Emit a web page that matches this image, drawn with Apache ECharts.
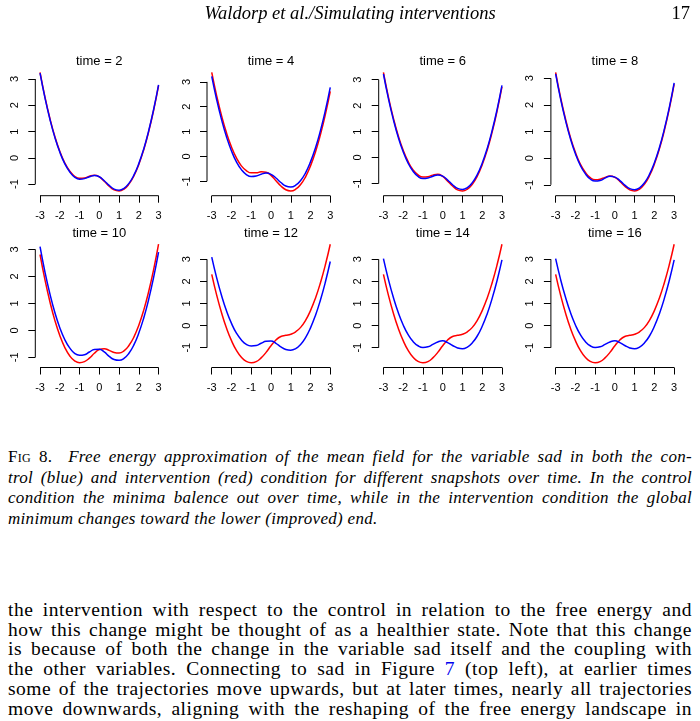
<!DOCTYPE html>
<html>
<head>
<meta charset="utf-8">
<script src="https://cdn.jsdelivr.net/npm/echarts@6/dist/echarts.min.js"></script>
<style>
html,body{margin:0;padding:0;background:#fff;}
body{width:700px;height:721px;position:relative;overflow:hidden;}
#chart{position:absolute;left:0;top:0;width:700px;height:410px;z-index:1;}
.t{position:absolute;white-space:nowrap;color:#000;font-family:'Liberation Serif','Times New Roman',serif;z-index:2;}
.hdr{top:2px;left:0;width:700px;text-align:center;font-style:italic;font-size:18.5px;line-height:22px;}
.pg{top:2px;right:10px;font-size:18.5px;line-height:22px;}
.cap{left:8px;width:684px;font-style:italic;font-size:17px;letter-spacing:0.3px;line-height:20px;text-align:justify;text-align-last:justify;}
.cap.last{text-align-last:left;}
.body{left:8px;width:684px;font-size:19.5px;letter-spacing:0.5px;line-height:20px;text-align:justify;text-align-last:justify;}
.sc{font-style:normal;font-variant:small-caps;}
.lnk{color:#0000ee;}
</style>
</head>
<body>
<div class="t hdr">Waldorp et al./Simulating interventions</div>
<div class="t pg">17</div>
<div id="chart"></div>
<div class="t cap" style="top:447px"><span class="sc">Fig 8.</span>&nbsp;&nbsp;Free energy approximation of the mean field for the variable sad in both the con-</div>
<div class="t cap" style="top:467.5px">trol (blue) and intervention (red) condition for different snapshots over time. In the control</div>
<div class="t cap" style="top:488px">condition the minima balence out over time, while in the intervention condition the global</div>
<div class="t cap last" style="top:508.5px">minimum changes toward the lower (improved) end.</div>
<div class="t body" style="top:600px">the intervention with respect to the control in relation to the free energy and</div>
<div class="t body" style="top:619.7px">how this change might be thought of as a healthier state. Note that this change</div>
<div class="t body" style="top:639.4px">is because of both the change in the variable sad itself and the coupling with</div>
<div class="t body" style="top:659.1px">the other variables. Connecting to sad in Figure <span class="lnk">7</span> (top left), at earlier times</div>
<div class="t body" style="top:678.8px">some of the trajectories move upwards, but at later times, nearly all trajectories</div>
<div class="t body" style="top:698.5px">move downwards, aligning with the reshaping of the free energy landscape in</div>
<script>
// ---- data ----
const xValues = [-3,-2.75,-2.5,-2.25,-2,-1.75,-1.5,-1.25,-1,-0.75,-0.5,-0.25,0,0.25,0.5,0.75,1,1.25,1.5,1.75,2,2.25,2.5,2.75,3];
const times = [2,4,6,8,10,12,14,16];
const xTickLabels = [-3,-2,-1,0,1,2,3];
const yTickLabels = [-1,0,1,2,3];

// control (blue)
const control_t2  = [3.22,2.28,1.47,0.78,0.22,-0.22,-0.53,-0.73,-0.81,-0.79,-0.72,-0.67,-0.72,-0.87,-1.05,-1.19,-1.23,-1.16,-0.97,-0.66,-0.22,0.34,1.03,1.84,2.78];
const control_t4  = [3.22,2.28,1.47,0.78,0.22,-0.22,-0.53,-0.73,-0.81,-0.79,-0.72,-0.67,-0.72,-0.87,-1.05,-1.19,-1.23,-1.16,-0.97,-0.66,-0.22,0.34,1.03,1.84,2.78];
const control_t6  = [3.22,2.28,1.47,0.78,0.22,-0.22,-0.53,-0.73,-0.81,-0.79,-0.72,-0.67,-0.72,-0.87,-1.05,-1.19,-1.23,-1.16,-0.97,-0.66,-0.22,0.34,1.03,1.84,2.78];
const control_t8  = [3.17,2.23,1.42,0.73,0.17,-0.27,-0.58,-0.78,-0.86,-0.84,-0.75,-0.68,-0.71,-0.84,-1.01,-1.14,-1.18,-1.11,-0.92,-0.61,-0.17,0.39,1.08,1.89,2.83];
const control_t10 = [3.10,2.16,1.35,0.66,0.10,-0.34,-0.65,-0.85,-0.92,-0.90,-0.80,-0.71,-0.70,-0.80,-0.96,-1.08,-1.11,-1.04,-0.85,-0.54,-0.10,0.46,1.15,1.96,2.90];
const control_t12 = [3.10,2.16,1.35,0.66,0.10,-0.34,-0.65,-0.85,-0.92,-0.90,-0.80,-0.71,-0.70,-0.80,-0.96,-1.08,-1.11,-1.04,-0.85,-0.54,-0.10,0.46,1.15,1.96,2.90];
const control_t14 = [3.03,2.09,1.28,0.59,0.03,-0.41,-0.72,-0.91,-0.99,-0.96,-0.85,-0.74,-0.69,-0.77,-0.90,-1.01,-1.05,-0.97,-0.78,-0.47,-0.03,0.53,1.22,2.03,2.97];
const control_t16 = [3.03,2.09,1.28,0.59,0.03,-0.41,-0.72,-0.91,-0.99,-0.96,-0.85,-0.74,-0.69,-0.77,-0.90,-1.01,-1.05,-0.97,-0.78,-0.47,-0.03,0.53,1.22,2.03,2.97];

// intervention (red)
const intervention_t2  = [3.25,2.31,1.50,0.81,0.25,-0.19,-0.50,-0.70,-0.78,-0.77,-0.70,-0.66,-0.72,-0.89,-1.08,-1.22,-1.26,-1.19,-1.00,-0.69,-0.25,0.31,1.00,1.81,2.75];
const intervention_t4  = [3.38,2.44,1.63,0.94,0.38,-0.06,-0.38,-0.57,-0.66,-0.66,-0.62,-0.64,-0.76,-0.98,-1.19,-1.34,-1.39,-1.32,-1.13,-0.82,-0.38,0.18,0.87,1.68,2.62];
const intervention_t6  = [3.28,2.34,1.53,0.84,0.28,-0.16,-0.48,-0.67,-0.75,-0.74,-0.68,-0.65,-0.73,-0.91,-1.10,-1.25,-1.29,-1.22,-1.03,-0.72,-0.28,0.28,0.97,1.78,2.72];
const intervention_t8  = [3.22,2.28,1.47,0.78,0.22,-0.22,-0.53,-0.73,-0.81,-0.79,-0.72,-0.67,-0.72,-0.87,-1.05,-1.19,-1.23,-1.16,-0.97,-0.66,-0.22,0.34,1.03,1.84,2.78];
const intervention_t10 = [2.81,1.87,1.06,0.37,-0.19,-0.63,-0.94,-1.13,-1.20,-1.16,-1.03,-0.85,-0.71,-0.68,-0.74,-0.82,-0.84,-0.76,-0.56,-0.25,0.19,0.75,1.44,2.25,3.19];
const intervention_t12 = [2.32,1.38,0.57,-0.12,-0.68,-1.12,-1.43,-1.62,-1.68,-1.63,-1.46,-1.21,-0.91,-0.65,-0.49,-0.44,-0.39,-0.28,-0.08,0.24,0.68,1.24,1.93,2.74,3.68];
const intervention_t14 = [2.32,1.38,0.57,-0.12,-0.68,-1.12,-1.43,-1.62,-1.68,-1.63,-1.46,-1.21,-0.91,-0.65,-0.49,-0.44,-0.39,-0.28,-0.08,0.24,0.68,1.24,1.93,2.74,3.68];
const intervention_t16 = [2.32,1.38,0.57,-0.12,-0.68,-1.12,-1.43,-1.62,-1.68,-1.63,-1.46,-1.21,-0.91,-0.65,-0.49,-0.44,-0.39,-0.28,-0.08,0.24,0.68,1.24,1.93,2.74,3.68];

const controlSeries = [control_t2,control_t4,control_t6,control_t8,control_t10,control_t12,control_t14,control_t16];
const interventionSeries = [intervention_t2,intervention_t4,intervention_t6,intervention_t8,intervention_t10,intervention_t12,intervention_t14,intervention_t16];

// ---- layout ----
const colLeft = [35.3, 207.0, 378.7, 550.9];
const rowTop = [67.7, 239.5];
const plotSize = 128;
const labelFont = 'Liberation Sans, Arial, Helvetica, sans-serif';

const chart = echarts.init(document.getElementById('chart'), null, {renderer: 'canvas'});
const grids = [], xAxes = [], yAxes = [], series = [], titles = [];

function padRange(lo, hi) { const r = hi - lo; return [lo - 0.04 * r, hi + 0.04 * r]; }

times.forEach((t, i) => {
  const col = i % 4, row = Math.floor(i / 4);
  const left = colLeft[col], top = rowTop[row];
  grids.push({left: left, top: top, width: plotSize, height: plotSize, containLabel: false});
  const ctl = controlSeries[i], itv = interventionSeries[i];
  const all = ctl.concat(itv);
  const [ylo, yhi] = padRange(Math.min(...all), Math.max(...all));
  const [xlo, xhi] = padRange(Math.min(...xValues), Math.max(...xValues));
  xAxes.push({
    type: 'value', gridIndex: i, min: xlo, max: xhi, position: 'bottom',
    axisLine: {show: false, onZero: false},
    axisTick: {show: true, customValues: xTickLabels, length: 7, lineStyle: {color: '#000', width: 1}},
    axisLabel: {show: true, customValues: xTickLabels, margin: 15, fontSize: 11, color: '#000', fontFamily: labelFont},
    splitLine: {show: false}
  });
  yAxes.push({
    type: 'value', gridIndex: i, min: ylo, max: yhi, position: 'left',
    axisLine: {show: false, onZero: false},
    axisTick: {show: true, customValues: yTickLabels, length: 7, lineStyle: {color: '#000', width: 1}},
    axisLabel: {show: true, customValues: yTickLabels, margin: 15, rotate: 90, fontSize: 11, color: '#000', fontFamily: labelFont},
    splitLine: {show: false}
  });
  titles.push({
    text: 'time = ' + t, left: left + plotSize / 2, top: top - 12.5, textAlign: 'center', padding: 0,
    textStyle: {fontSize: 13, fontWeight: 'normal', color: '#000', fontFamily: labelFont}
  });
  // axis lines spanning first to last tick (R style)
  series.push({
    type: 'line', xAxisIndex: i, yAxisIndex: i, silent: true, clip: false, symbol: 'none', z: 1,
    data: [[xTickLabels[0], ylo], [xTickLabels[xTickLabels.length - 1], ylo]],
    lineStyle: {color: '#000', width: 1}
  });
  series.push({
    type: 'line', xAxisIndex: i, yAxisIndex: i, silent: true, clip: false, symbol: 'none', z: 1,
    data: [[xlo, yTickLabels[0]], [xlo, yTickLabels[yTickLabels.length - 1]]],
    lineStyle: {color: '#000', width: 1}
  });
  series.push({
    name: 'intervention', type: 'line', xAxisIndex: i, yAxisIndex: i, smooth: true, symbol: 'none', z: 2,
    data: xValues.map((x, j) => [x, itv[j]]), lineStyle: {color: '#ff0000', width: 1.5}
  });
  series.push({
    name: 'control', type: 'line', xAxisIndex: i, yAxisIndex: i, smooth: true, symbol: 'none', z: 3,
    data: xValues.map((x, j) => [x, ctl[j]]), lineStyle: {color: '#0000ff', width: 1.5}
  });
});

chart.setOption({
  animation: false,
  backgroundColor: 'transparent',
  title: titles,
  grid: grids,
  xAxis: xAxes,
  yAxis: yAxes,
  series: series
});
</script>
</body>
</html>
